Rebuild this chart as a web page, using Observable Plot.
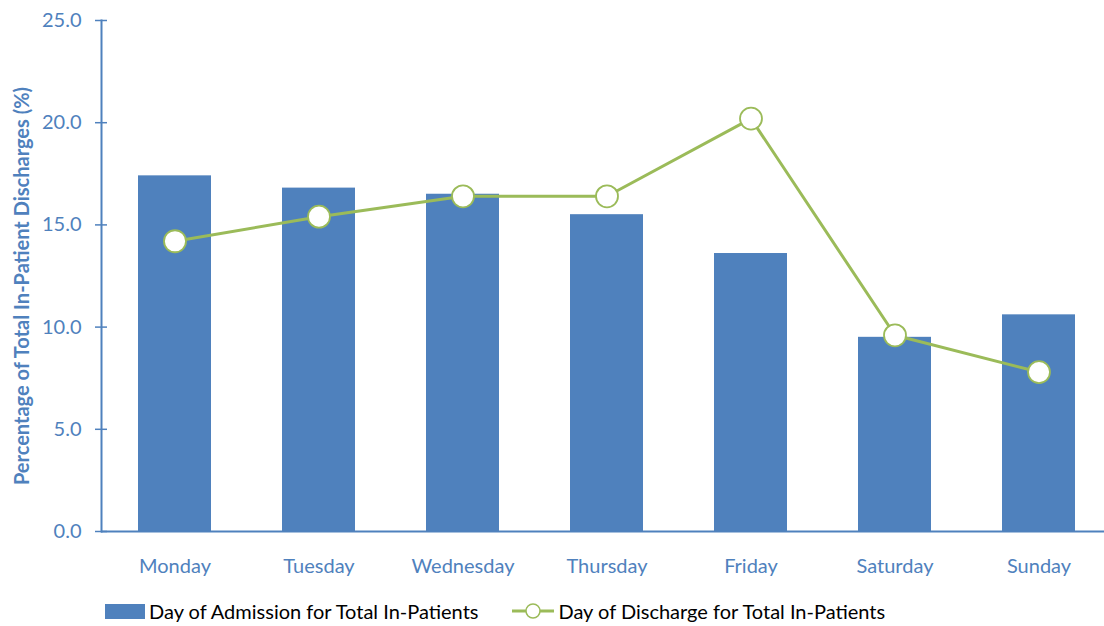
<!DOCTYPE html>
<html>
<head>
<meta charset="utf-8">
<script src="https://cdn.jsdelivr.net/npm/d3@7"></script>
<script src="https://cdn.jsdelivr.net/npm/@observablehq/plot@0.6"></script>
<style>
  html, body { margin: 0; padding: 0; background: #fff; overflow: hidden; }
  body { width: 1104px; height: 626px; font-family: Lato, "Open Sans", sans-serif; }
  #chart svg { display: block; overflow: visible; }
  .legend { display: flex; align-items: center; height: 30px; margin-top: 16px; padding-left: 105px; font-size: 20px; color: #000; }
  .legend .item { display: flex; align-items: center; }
  .legend .swatch { width: 40px; height: 15px; background: #4F81BD; margin-right: 4px; }
  .legend svg { margin-right: 4px; }
</style>
</head>
<body>
<div id="chart"></div>
<div class="legend">
  <div class="item"><span class="swatch"></span><span>Day of Admission for Total In-Patients</span></div>
  <div class="item" style="margin-left:34px"><svg width="42" height="24"><line x1="0" y1="12" x2="42" y2="12" stroke="#9BBB59" stroke-width="3"/><circle cx="21" cy="12" r="7" fill="#fff" stroke="#9BBB59" stroke-width="1.5"/></svg><span>Day of Discharge for Total In-Patients</span></div>
</div>
<script>
const days = ["Monday", "Tuesday", "Wednesday", "Thursday", "Friday", "Saturday", "Sunday"];
const admission = [17.4, 16.8, 16.5, 15.5, 13.6, 9.5, 10.6];
const discharge = [14.2, 15.4, 16.4, 16.4, 20.2, 9.6, 7.8];
const yTicks = [0, 5, 10, 15, 20, 25];

const rows = days.map((day, i) => ({day, admission: admission[i], discharge: discharge[i]}));

const axisColor = "#4F81BD";
const textColor = "#4F81BD";

const chart = Plot.plot({
  width: 1104,
  height: 580,
  marginLeft: 101,
  marginRight: -8,
  marginTop: 20,
  marginBottom: 49,
  style: {fontFamily: "Lato, 'Open Sans', sans-serif", fontSize: "20px", color: textColor, background: "transparent"},
  x: {domain: days, paddingInner: 0.49, paddingOuter: 0.245, label: null},
  y: {domain: [0, 25], label: null},
  marks: [
    Plot.barY(rows, {x: "day", y: "admission", fill: "#4F81BD"}),
    Plot.ruleY([0], {stroke: axisColor, strokeWidth: 2}),
    Plot.frame({anchor: "left", stroke: axisColor, strokeWidth: 2}),
    Plot.axisY(yTicks, {tickSize: 12, dx: 6, text: null, stroke: axisColor, strokeWidth: 1.5}),
    Plot.axisY(yTicks, {tickSize: 0, tickPadding: 20, tickFormat: d => d.toFixed(1), fill: textColor, label: null}),
    Plot.axisX({tickSize: 0, tickPadding: 27, fill: textColor, label: null}),
    Plot.lineY(rows, {x: "day", y: "discharge", stroke: "#9BBB59", strokeWidth: 3}),
    Plot.dot(rows, {x: "day", y: "discharge", r: 11, fill: "#fff", stroke: "#9BBB59", strokeWidth: 1.8}),
    Plot.text(["Percentage of Total In-Patient Discharges (%)"], {
      frameAnchor: "left", textAnchor: "middle", dx: -79, dy: 10, rotate: -90,
      fontWeight: "bold", fontSize: 20, fill: textColor
    })
  ]
});
document.getElementById("chart").append(chart);
</script>
</body>
</html>
